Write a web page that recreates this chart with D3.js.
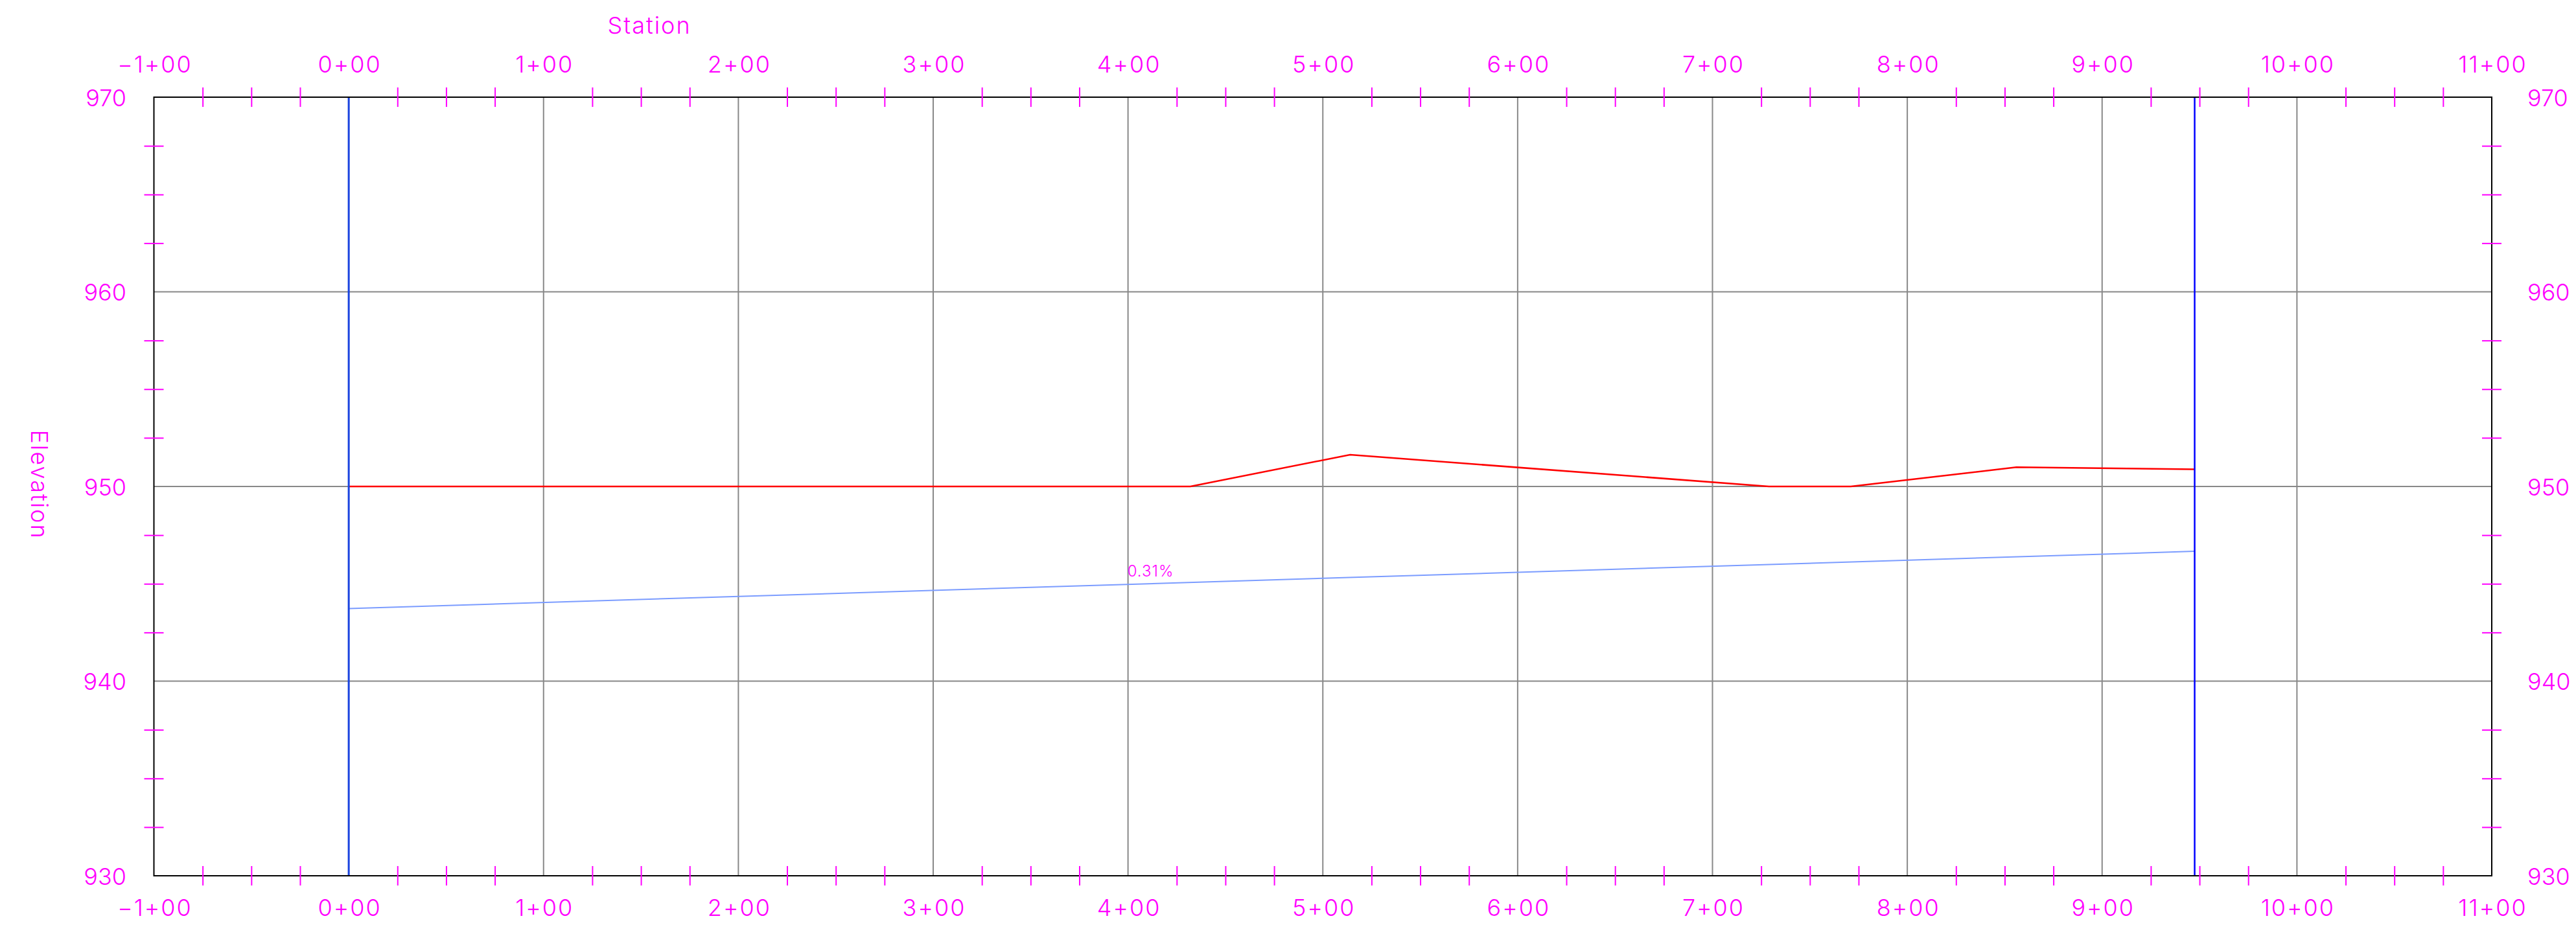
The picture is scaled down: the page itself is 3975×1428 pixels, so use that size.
<!DOCTYPE html>
<html>
<head>
<meta charset="utf-8">
<script src="https://cdn.jsdelivr.net/npm/d3@7/dist/d3.min.js"></script>
<style>
  html, body { margin: 0; padding: 0; background: #ffffff; }
  svg { display: block; }
  text { font-family: "Inter", "Lato", "DejaVu Sans", sans-serif; font-weight: 300; fill: #ff00ff; }
  .spaced text, text.spaced { letter-spacing: 2px; }
</style>
</head>
<body>
<svg id="chart" width="3975" height="1428"></svg>
<script>
// ---------------- data ----------------
const stationTicks  = [-100, 0, 100, 200, 300, 400, 500, 600, 700, 800, 900, 1000, 1100];
const stationLabels = ["\u22121+00", "0+00", "1+00", "2+00", "3+00", "4+00", "5+00", "6+00", "7+00", "8+00", "9+00", "10+00", "11+00"];
const elevationTicks  = [930, 940, 950, 960, 970];
const elevationLabels = ["930", "940", "950", "960", "970"];

// existing ground profile (red)
const groundStations   = [0, 432, 514, 729, 771, 856, 947.5];
const groundElevations = [950, 950, 951.63, 950, 950, 950.99, 950.88];

// proposed grade line (light blue)
const gradeStations   = [0, 947.5];
const gradeElevations = [943.73, 946.67];
const gradeLabel = "0.31%";
const gradeLabelStation = 400;

// alignment limits (blue verticals)
const limitStations = [0, 947.5];

const xTitle = "Station";
const yTitle = "Elevation";

// ---------------- layout ----------------
const L = 237.5, R = 3845, T = 150, B = 1352;
const svg = d3.select("#chart");

const x = d3.scaleLinear().domain([-100, 1100]).range([L, R]);
const y = d3.scaleLinear().domain([930, 970]).range([B, T]);

const MAG = "#ff00ff";
const FS = 36;

// minor ticks (every 25 ft station, every 2.5 ft elevation, skipping majors)
const stationMinor = d3.range(-100, 1100.01, 25).filter(v => Math.abs(v % 100) > 1e-6);
const elevMinor = d3.range(930, 970.01, 2.5).filter(v => Math.abs(v % 10) > 1e-6);

// grid lines
const grid = svg.append("g");
grid.selectAll("line.v").data(stationTicks.filter(v => v > -100 && v < 1100)).join("line")
  .attr("x1", d => x(d)).attr("x2", d => x(d)).attr("y1", T).attr("y2", B)
  .attr("stroke", "#888888").attr("stroke-width", 2);
grid.selectAll("line.h").data(elevationTicks.filter(v => v > 930 && v < 970)).join("line")
  .attr("x1", L).attr("x2", R).attr("y1", d => y(d)).attr("y2", d => y(d))
  .attr("stroke", "#888888").attr("stroke-width", 2);

// grade line
const line = d3.line().x(d => x(d[0])).y(d => y(d[1]));
svg.append("path")
  .datum(gradeStations.map((s, i) => [s, gradeElevations[i]]))
  .attr("d", line).attr("fill", "none").attr("stroke", "#7b9cff").attr("stroke-width", 2);

// ground profile
svg.append("path")
  .datum(groundStations.map((s, i) => [s, groundElevations[i]]))
  .attr("d", line).attr("fill", "none").attr("stroke", "#ff0000").attr("stroke-width", 2.5);

// limit verticals
svg.selectAll("line.lim").data(limitStations).join("line")
  .attr("x1", d => x(d)).attr("x2", d => x(d)).attr("y1", T).attr("y2", B)
  .attr("stroke", (d, i) => i === 0 ? "#1a44e0" : "#0000ff")
  .attr("stroke-width", (d, i) => i === 0 ? 3 : 2.5);

// frame
svg.append("rect").attr("x", L).attr("y", T).attr("width", R - L).attr("height", B - T)
  .attr("fill", "none").attr("stroke", "#000000").attr("stroke-width", 2);

// grade label
const gInterp = d3.scaleLinear().domain(gradeStations).range(gradeElevations);
svg.append("text")
  .attr("x", x(gradeLabelStation) - 1)
  .attr("y", y(gInterp(gradeLabelStation)) - 12)
  .attr("font-size", 24)
  .attr("font-weight", 400)
  .style("letter-spacing", "1px")
  .attr("text-anchor", "start")
  .text(gradeLabel);

// ---------- axes: minor ticks ----------
function crossTicks(g, horizontal) {
  g.select(".domain").remove();
  g.selectAll(".tick line").attr("stroke", MAG).attr("stroke-width", 2);
  if (horizontal) g.selectAll(".tick line").attr("y1", -15).attr("y2", 15);
  else g.selectAll(".tick line").attr("x1", -15).attr("x2", 15);
  g.selectAll(".tick text").remove();
}
svg.append("g").attr("transform", `translate(0,${T})`)
  .call(d3.axisTop(x).tickValues(stationMinor).tickFormat(""))
  .call(g => crossTicks(g, true));
svg.append("g").attr("transform", `translate(0,${B})`)
  .call(d3.axisBottom(x).tickValues(stationMinor).tickFormat(""))
  .call(g => crossTicks(g, true));
svg.append("g").attr("transform", `translate(${L},0)`)
  .call(d3.axisLeft(y).tickValues(elevMinor).tickFormat(""))
  .call(g => crossTicks(g, false));
svg.append("g").attr("transform", `translate(${R},0)`)
  .call(d3.axisRight(y).tickValues(elevMinor).tickFormat(""))
  .call(g => crossTicks(g, false));

// ---------- axes: major labels ----------
function styleLabels(g) {
  g.select(".domain").remove();
  g.selectAll(".tick line").remove();
  g.selectAll(".tick text").attr("fill", MAG).attr("font-size", FS)
    .attr("font-family", "Inter, Lato, 'DejaVu Sans', sans-serif").attr("font-weight", 300);
}
const sLab = d => stationLabels[stationTicks.indexOf(d)];
const eLab = d => elevationLabels[elevationTicks.indexOf(d)];

svg.append("g").attr("class", "spaced").attr("transform", `translate(0,${T})`)
  .call(d3.axisTop(x).tickValues(stationTicks).tickFormat(sLab).tickSize(0).tickPadding(0))
  .call(styleLabels)
  .call(g => g.selectAll(".tick text").attr("dy", 0).attr("y", -38.5).attr("dx", 1));
svg.append("g").attr("class", "spaced").attr("transform", `translate(0,${B})`)
  .call(d3.axisBottom(x).tickValues(stationTicks).tickFormat(sLab).tickSize(0).tickPadding(0))
  .call(styleLabels)
  .call(g => g.selectAll(".tick text").attr("dy", 0).attr("y", 62).attr("dx", 1));
svg.append("g").attr("transform", `translate(${L},0)`)
  .call(d3.axisLeft(y).tickValues(elevationTicks).tickFormat(eLab).tickSize(0).tickPadding(0))
  .call(styleLabels)
  .call(g => g.selectAll(".tick text").attr("dy", 0).attr("y", 13).attr("x", -42.5));
svg.append("g").attr("transform", `translate(${R},0)`)
  .call(d3.axisRight(y).tickValues(elevationTicks).tickFormat(eLab).tickSize(0).tickPadding(0))
  .call(styleLabels)
  .call(g => g.selectAll(".tick text").attr("dy", 0).attr("y", 13).attr("x", 55));

// titles
svg.append("text").attr("class", "spaced").attr("x", 1002).attr("y", 52).attr("font-size", FS)
  .attr("text-anchor", "middle").text(xTitle);
svg.append("text").attr("class", "spaced").attr("transform", "translate(48,748) rotate(90)").attr("font-size", FS)
  .attr("text-anchor", "middle").text(yTitle);
</script>
</body>
</html>
